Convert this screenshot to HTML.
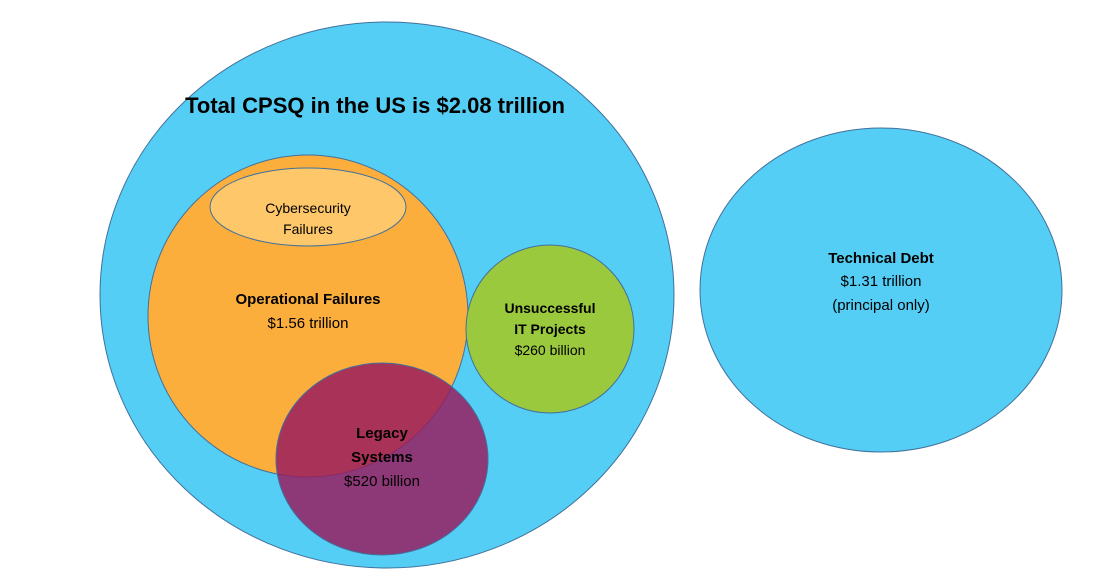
<!DOCTYPE html>
<html><head><meta charset="utf-8"><style>
html,body{margin:0;padding:0;background:#fff;}
svg{display:block;font-family:"Liberation Sans",sans-serif;}
</style></head><body>
<svg width="1100" height="588" viewBox="0 0 1100 588">
<g stroke="#41719c" stroke-width="1">
<ellipse cx="387" cy="295" rx="287" ry="273" fill="#55cef5"/>
<ellipse cx="881" cy="290" rx="181" ry="162" fill="#55cef5"/>
<ellipse cx="308" cy="316" rx="160" ry="161" fill="#fbae3c"/>
<ellipse cx="308" cy="207" rx="98" ry="39" fill="#fdc76a"/>
<ellipse cx="550" cy="329" rx="84" ry="84" fill="#9bc93e"/>
<ellipse cx="382" cy="459" rx="106" ry="96" fill="rgba(153,28,94,0.84)"/>
</g>
<g fill="#000" text-anchor="middle">
<text x="375" y="113" font-size="22" font-weight="bold">Total CPSQ in the US is $2.08 trillion</text>
<text font-size="14"><tspan x="308" y="213">Cybersecurity</tspan><tspan x="308" y="234">Failures</tspan></text>
<text x="308" y="304" font-size="15" font-weight="bold">Operational Failures</text>
<text x="308" y="328" font-size="15">$1.56 trillion</text>
<text font-size="14" font-weight="bold"><tspan x="550" y="313">Unsuccessful</tspan><tspan x="550" y="334">IT Projects</tspan></text>
<text x="550" y="355" font-size="14">$260 billion</text>
<text font-size="15" font-weight="bold"><tspan x="382" y="438">Legacy</tspan><tspan x="382" y="462">Systems</tspan></text>
<text x="382" y="486" font-size="15">$520 billion</text>
<text x="881" y="263" font-size="15" font-weight="bold">Technical Debt</text>
<text x="881" y="286" font-size="15">$1.31 trillion</text>
<text x="881" y="310" font-size="15">(principal only)</text>
</g>
</svg>
</body></html>
